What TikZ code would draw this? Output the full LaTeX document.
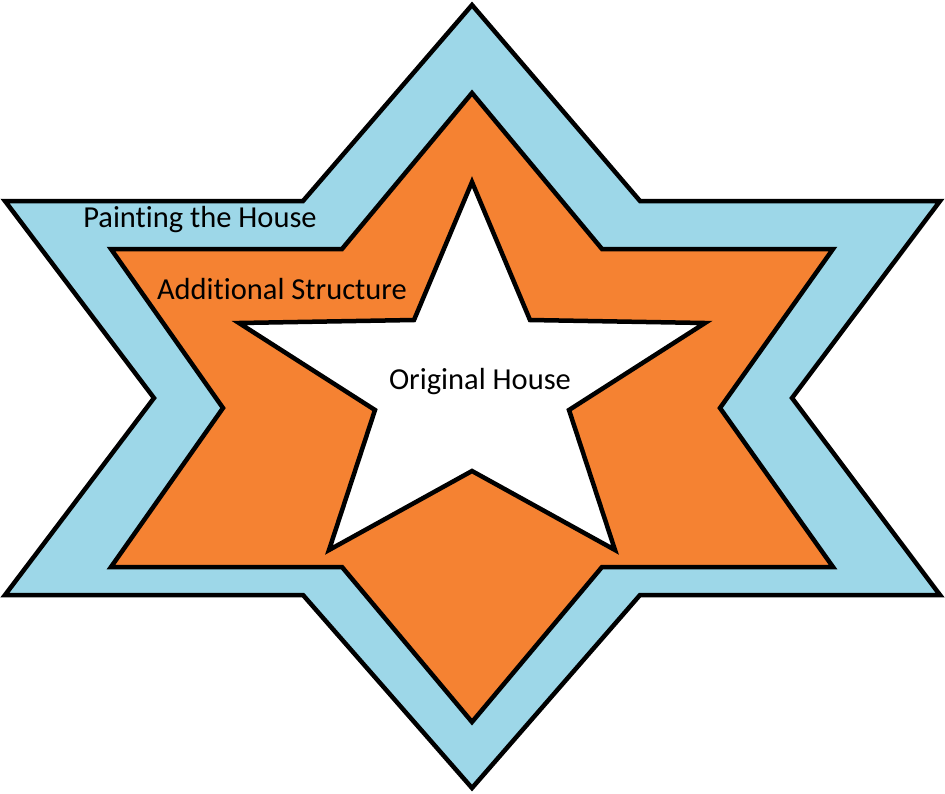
\documentclass[tikz,border=0pt]{standalone}
\usepackage{fontspec}
\setmainfont{Carlito}[Ligatures=NoCommon]
\definecolor{paintblue}{RGB}{157,215,232}
\definecolor{structorange}{RGB}{245,130,50}
\tikzset{layer/.style={draw=black,line width=4.5pt,line join=miter}}
\tikzset{t/.style={anchor=base,inner sep=0pt,font=\fontsize{30.5}{32}\selectfont}}

\begin{document}
\begin{tikzpicture}[x=1pt,y=-1pt]
  \useasboundingbox (0,0) rectangle (945,793);
  % painting the house
  \draw[layer,fill=paintblue] (472,5) -- (640,201) -- (940,201) -- (792,398) -- (940,595)
    -- (640,595) -- (472,788) -- (303,595) -- (5,595) -- (154,398) -- (5,201) -- (303,201) -- cycle;
  % additional structure
  \draw[layer,fill=structorange] (472,93) -- (602,249) -- (833,249) -- (720,408) -- (833,567)
    -- (602,567) -- (472,722) -- (342,567) -- (111,567) -- (223,408) -- (111,249) -- (342,249) -- cycle;
  % original house
  \draw[layer,fill=white] (472,182) -- (530,320) -- (705,323) -- (569,410) -- (615,550)
    -- (472,471) -- (329,550) -- (375,410) -- (239,323) -- (414,320) -- cycle;
  \node[t] (paint) at (200,227) {Painting the House};
  \node[t] (struct) at (282,299) {Additional Structure};
  \node[t] (orig) at (480,389) {Original House};
\end{tikzpicture}
\end{document}
